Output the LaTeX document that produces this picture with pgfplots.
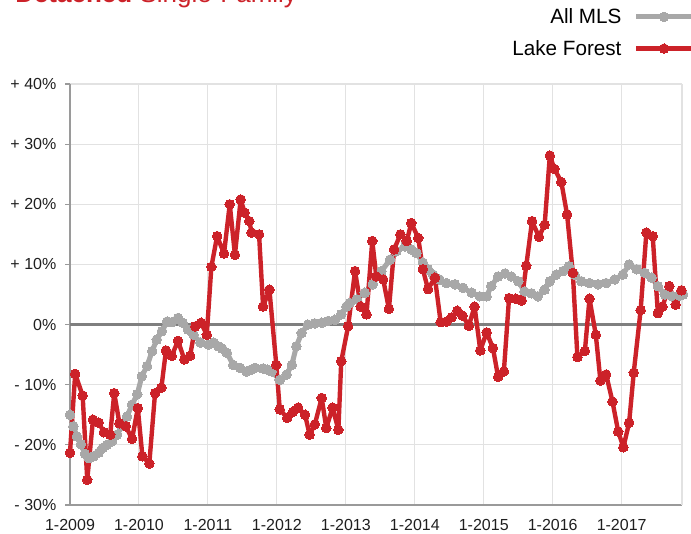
\documentclass[border=0pt]{standalone}
\usepackage{fontspec}
\setmainfont{Liberation Sans}
\usepackage{pgfplots}
\pgfplotsset{compat=1.18}
\definecolor{lfred}{HTML}{CC2229}
\definecolor{mlsgray}{HTML}{A8A8A8}
\definecolor{zerogray}{HTML}{7F7F7F}
\definecolor{gridgray}{HTML}{E2E2E2}
\definecolor{axisgray}{HTML}{9A9A9A}
\begin{document}
\begin{tikzpicture}
\node[anchor=base west, text=lfred, font=\fontsize{19.5}{22}\selectfont, inner sep=0pt] at (11.25pt,397.8pt) {\textbf{Detached} Single-Family};
\begin{axis}[
  at={(52.5pt,21pt)}, anchor=south west,
  scale only axis, width=459pt, height=315.75pt,
  xmin=0, xmax=106.5, ymin=-30, ymax=40,
  axis x line*=bottom, axis y line*=left,
  axis line style={-, draw=axisgray, line width=0.9pt},
  xtick={0,12,24,36,48,60,72,84,96},
  xticklabels={1-2009,1-2010,1-2011,1-2012,1-2013,1-2014,1-2015,1-2016,1-2017},
  ytick={-30,-20,-10,0,10,20,30,40},
  yticklabels={- 30\%,- 20\%,- 10\%,0\%,+ 10\%,+ 20\%,+ 30\%,+ 40\%},
  grid=major, major grid style={draw=gridgray, line width=0.8pt},
  tick align=outside, major tick length=3.75pt,
  xtick style={draw=none},
  ytick style={draw=axisgray, line width=0.8pt},
  tick label style={font=\fontsize{12}{14}\selectfont, text=black!88},
  xticklabel style={yshift=-3.5pt},
  yticklabel style={xshift=-3pt},
  clip=false,
  legend cell align=right,
  legend plot pos=right,
  legend style={draw=none, fill=none, font=\fontsize{15.5}{18}\selectfont,
    at={(axis description cs:1.034,1.057)}, anchor=south east,
    row sep=7pt, inner sep=0pt, nodes={inner sep=2pt}},
  legend image code/.code={\draw[#1, mark repeat=2, mark phase=2] plot coordinates {(0pt,0pt) (21pt,0pt) (48pt,0pt)};},
]
\draw[draw=gridgray, line width=0.8pt] (axis cs:106.5,-30) -- (axis cs:106.5,40);
\draw[draw=zerogray, line width=2.3pt] (axis cs:0,0) -- (axis cs:106.5,0);
\addplot[color=mlsgray, line width=3.8pt, line join=round, mark=*, mark size=3.6pt, mark options={fill=mlsgray, draw=mlsgray, line width=0pt}] coordinates {
(0,-15.0)(0.6,-16.9)(1.2,-18.6)(1.9,-19.9)(2.6,-21.5)(3.3,-22.2)(4.1,-21.9)(5.0,-21.3)(5.7,-20.5)(6.4,-20.0)(7.3,-19.4)(8.2,-18.3)(9.0,-16.9)(9.9,-15.3)(10.8,-13.3)(11.7,-11.6)(12.5,-8.6)(13.4,-6.9)(14.3,-4.4)(15.1,-2.5)(16.0,-1.1)(16.9,0.5)(17.7,0.4)(18.8,1.1)(19.6,0.3)(20.5,-0.8)(21.5,-1.7)(22.7,-3.0)(24.1,-3.3)(25.0,-3.0)(25.8,-3.6)(26.5,-4.0)(27.3,-4.7)(28.4,-6.7)(29.6,-7.2)(30.7,-7.8)(31.5,-7.5)(32.2,-7.2)(33.6,-7.3)(34.4,-7.5)(35.1,-7.8)(36.5,-9.2)(37.7,-8.3)(38.6,-6.7)(39.4,-3.6)(40.3,-1.4)(41.4,0)(42.6,0.2)(43.8,0.3)(44.9,0.6)(46.1,0.8)(47.2,1.7)(48.1,3.0)(48.7,3.6)(49.9,4.2)(51.3,5.3)(52.7,6.7)(54.2,8.9)(55.7,10.8)(56.8,12.2)(58.3,13.0)(59.4,12.5)(60.3,11.9)(61.4,10.3)(62.3,9.2)(63.2,8.3)(64.3,7.5)(65.5,6.9)(67.0,6.7)(68.4,6.1)(69.9,5.3)(71.3,4.7)(72.5,4.7)(73.3,6.4)(74.5,8.0)(75.7,8.5)(76.8,8.0)(78.0,7.2)(79.1,5.5)(80.3,5.2)(81.4,4.7)(82.6,5.8)(83.5,7.2)(84.6,8.3)(85.8,8.9)(86.8,9.7)(87.8,8.3)(89.0,7.2)(90.4,6.9)(91.9,6.7)(93.3,6.9)(94.8,7.5)(96.2,8.3)(97.3,10.0)(98.6,9.2)(100.0,8.6)(101.2,7.8)(102.3,6.4)(103.5,5.0)(104.8,4.7)(105.8,4.7)(106.7,5.0)
};
\addlegendentry{All MLS\rule{7pt}{0pt}}
\addplot[color=lfred, line width=3.3pt, line join=round, mark=*, mark size=3.6pt, mark options={fill=lfred, draw=lfred, line width=0pt}] coordinates {
(0,-21.3)(0.9,-8.2)(2.2,-11.8)(3,-25.8)(4,-15.8)(5,-16.3)(5.9,-17.9)(7,-18.3)(7.7,-11.4)(8.6,-16.4)(9.7,-16.9)(10.8,-19.0)(11.8,-13.9)(12.6,-21.9)(13.8,-23.1)(14.8,-11.4)(15.9,-10.5)(16.7,-4.3)(17.7,-5.2)(18.8,-2.7)(19.9,-5.8)(20.9,-5.2)(21.8,-0.3)(22.8,0.3)(23.8,-1.7)(24.6,9.6)(25.6,14.7)(26.8,11.8)(27.8,20.0)(28.7,11.6)(29.7,20.8)(30.4,18.6)(31.2,17.2)(31.6,15.3)(32.9,15.0)(33.6,3.0)(34.7,5.8)(35.9,-6.7)(36.5,-14.1)(37.8,-15.5)(38.8,-14.5)(39.7,-13.8)(40.9,-15.0)(41.7,-18.3)(42.6,-16.6)(43.8,-12.2)(44.6,-17.2)(45.7,-13.8)(46.7,-17.5)(47.2,-6.1)(48.4,-0.3)(49.6,8.9)(50.6,3.0)(51.6,1.7)(52.6,13.9)(53.3,8.0)(54.5,7.5)(55.5,2.6)(56.4,12.5)(57.5,15.0)(58.6,13.9)(59.4,16.9)(60.6,14.4)(61.4,9.2)(62.3,5.9)(63.5,7.8)(64.5,0.4)(65.5,0.5)(66.4,1.2)(67.4,2.3)(68.3,1.5)(69.4,-0.2)(70.4,3.0)(71.4,-4.3)(72.5,-1.3)(73.6,-3.9)(74.5,-8.7)(75.5,-7.8)(76.4,4.4)(77.6,4.3)(78.6,4.0)(79.4,9.8)(80.4,17.2)(81.6,14.6)(82.6,16.6)(83.5,28.1)(84.3,25.9)(85.5,23.7)(86.5,18.3)(87.5,8.6)(88.3,-5.4)(89.6,-4.4)(90.4,4.3)(91.5,-1.7)(92.3,-9.3)(93.3,-8.3)(94.4,-12.8)(95.4,-17.8)(96.3,-20.4)(97.3,-16.3)(98.1,-8.0)(99.3,2.4)(100.3,15.3)(101.4,14.7)(102.3,1.9)(103.1,3.0)(104.3,6.4)(105.4,3.3)(106.4,5.7)
};
\addlegendentry{Lake Forest\rule{7pt}{0pt}}
\end{axis}
\pgfresetboundingbox
\path[use as bounding box] (0pt,0pt) rectangle (518.25pt,399.75pt);
\end{tikzpicture}
\end{document}
